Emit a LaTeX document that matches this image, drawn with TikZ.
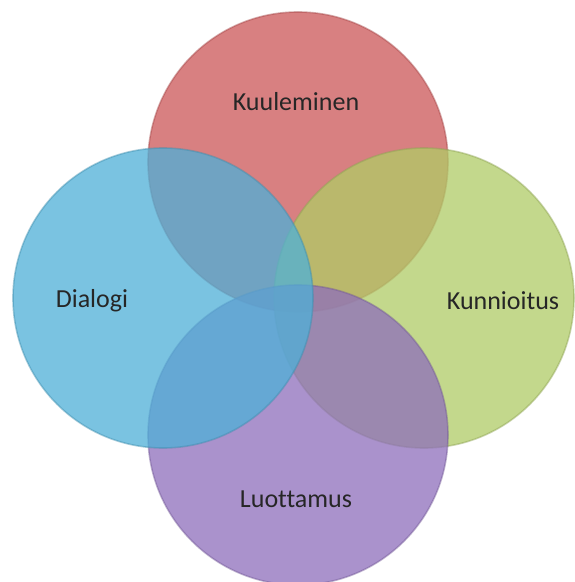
\documentclass[tikz,border=0pt]{standalone}
\usepackage{fontspec}
\setmainfont[Ligatures=NoCommon]{Carlito}
\usepackage{tikz}
\definecolor{kuulred}{RGB}{204,86,88}
\definecolor{kunngreen}{RGB}{176,203,102}
\definecolor{luotpurple}{RGB}{142,110,187}
\definecolor{dialblue}{RGB}{78,176,216}
\tikzset{
  bubble/.style={circle, inner sep=0pt, minimum size=150pt, fill=#1, fill opacity=0.75,
                 draw=#1!80!black, draw opacity=0.45, line width=0.8pt},
  word/.style={font=\fontsize{13}{15}\selectfont, text=black!85}
}
\begin{document}
\begin{tikzpicture}[x=0.5pt, y=-0.5pt]
                    \useasboundingbox (0,0) rectangle (574,582);
                    \fill[white] (0,0) rectangle (574,582);
                    \node[bubble=kuulred] (kuul) at (298,162) {};
                    \node[bubble=kunngreen] (kunn) at (424,298) {};
                    \node[bubble=luotpurple] (luot) at (298,435) {};
                    \node[bubble=dialblue] (dial) at (163,298) {};

                    \node[word] (kuultxt) at (296,102) {Kuuleminen};
                    \node[word] (kunntxt) at (503,301) {Kunnioitus};
                    \node[word] (luottxt) at (296,499) {Luottamus};
                    \node[word] (dialtxt) at (92,301) {Dialogi};
                \end{tikzpicture}
\end{document}
